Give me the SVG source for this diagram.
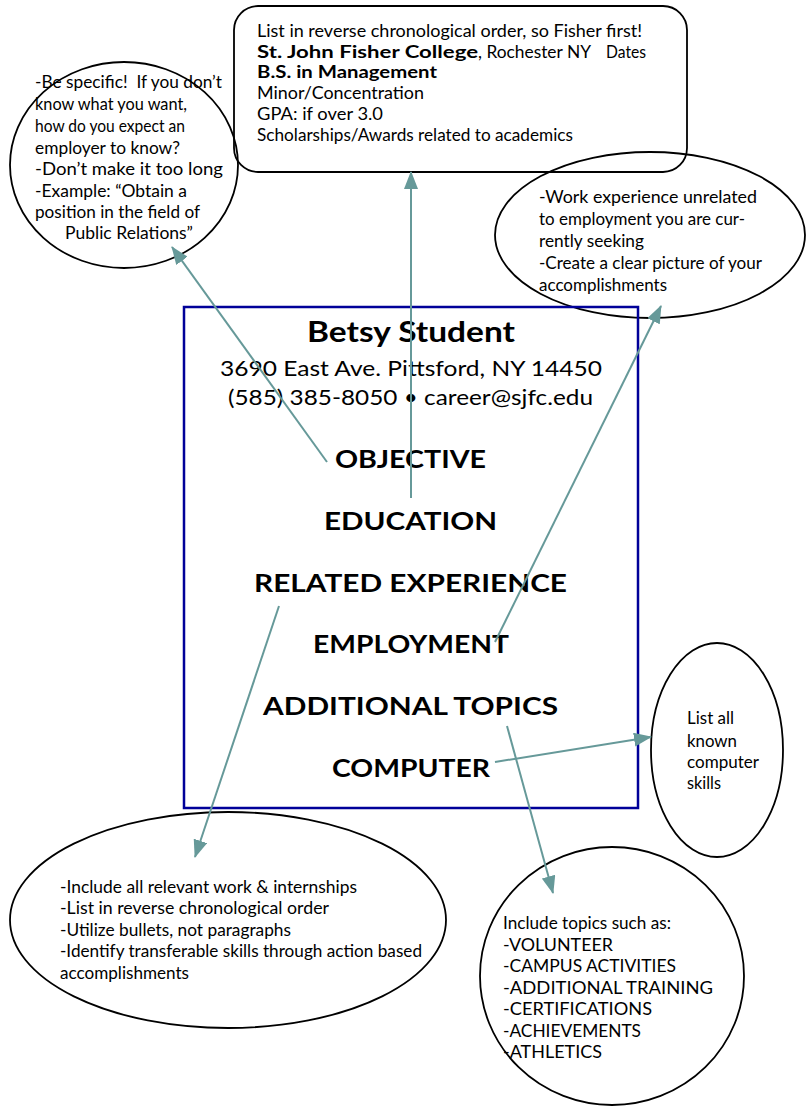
<svg xmlns="http://www.w3.org/2000/svg" width="806" height="1108" viewBox="0 0 806 1108">
<style>
  .t { font-family: Lato, "Open Sans", "Liberation Sans", sans-serif; font-size: 16.5px; fill: #000; }
  .b { font-weight: bold; }
  .h { font-family: Lato, "Open Sans", "Liberation Sans", sans-serif; font-size: 25px; font-weight: bold; fill: #000; }
  .n { font-family: Lato, "Open Sans", "Liberation Sans", sans-serif; fill: #000; }
  .shape { fill: none; stroke: #000; stroke-width: 1.8; }
  .box { fill: none; stroke: #000099; stroke-width: 2.5; }
  .conn { fill: none; stroke: #669999; stroke-width: 2; marker-end: url(#arr); }
</style>
<defs>
  <marker id="arr" viewBox="0 0 18 14" refX="17" refY="7" markerWidth="18" markerHeight="14" markerUnits="userSpaceOnUse" orient="auto">
    <path d="M0,0 L18,7 L0,14 Z" fill="#669999"/>
  </marker>
</defs>
<rect width="806" height="1108" fill="#fff"/>

<g id="objective-note">
  <ellipse class="shape" cx="124" cy="165" rx="114" ry="103"/>
  <text class="t" x="35" y="88" textLength="187" lengthAdjust="spacingAndGlyphs" xml:space="preserve">-Be specific!  If you don’t</text>
  <text class="t" x="35" y="110" textLength="152" lengthAdjust="spacingAndGlyphs">know what you want,</text>
  <text class="t" x="35" y="132" textLength="150" lengthAdjust="spacingAndGlyphs">how do you expect an</text>
  <text class="t" x="35" y="154" textLength="145" lengthAdjust="spacingAndGlyphs">employer to know?</text>
  <text class="t" x="35" y="175" textLength="188" lengthAdjust="spacingAndGlyphs">-Don’t make it too long</text>
  <text class="t" x="35" y="197" textLength="152" lengthAdjust="spacingAndGlyphs">-Example: “Obtain a</text>
  <text class="t" x="35" y="218" textLength="165" lengthAdjust="spacingAndGlyphs">position in the field of</text>
  <text class="t" x="65" y="239" textLength="128" lengthAdjust="spacingAndGlyphs">Public Relations”</text>
</g>

<g id="education-note">
  <rect class="shape" x="234" y="6" width="453" height="166" rx="24" ry="24"/>
  <text class="t" x="257" y="37" textLength="385" lengthAdjust="spacingAndGlyphs">List in reverse chronological order, so Fisher first!</text>
  <text class="t b" x="257" y="58" textLength="221" lengthAdjust="spacingAndGlyphs">St. John Fisher College</text>
  <text class="t" x="478" y="58" textLength="113" lengthAdjust="spacingAndGlyphs">, Rochester NY</text>
  <text class="t" x="606" y="58" textLength="40" lengthAdjust="spacingAndGlyphs">Dates</text>
  <text class="t b" x="257" y="78" textLength="180" lengthAdjust="spacingAndGlyphs">B.S. in Management</text>
  <text class="t" x="257" y="99" textLength="167" lengthAdjust="spacingAndGlyphs">Minor/Concentration</text>
  <text class="t" x="257" y="120" textLength="126" lengthAdjust="spacingAndGlyphs">GPA: if over 3.0</text>
  <text class="t" x="257" y="141" textLength="316" lengthAdjust="spacingAndGlyphs">Scholarships/Awards related to academics</text>
</g>

<g id="employment-note">
  <ellipse class="shape" cx="650" cy="235" rx="155" ry="83"/>
  <text class="t" x="539" y="203" textLength="218" lengthAdjust="spacingAndGlyphs">-Work experience unrelated</text>
  <text class="t" x="539" y="225" textLength="206" lengthAdjust="spacingAndGlyphs">to employment you are cur-</text>
  <text class="t" x="539" y="247" textLength="105" lengthAdjust="spacingAndGlyphs">rently seeking</text>
  <text class="t" x="539" y="269" textLength="223" lengthAdjust="spacingAndGlyphs">-Create a clear picture of your</text>
  <text class="t" x="539" y="291" textLength="128" lengthAdjust="spacingAndGlyphs">accomplishments</text>
</g>

<g id="resume">
  <rect class="box" x="184" y="307" width="454" height="501"/>
  <text class="n b" x="307" y="342" font-size="28" textLength="208" lengthAdjust="spacingAndGlyphs">Betsy Student</text>
  <text class="n" x="220" y="376" font-size="21" textLength="382" lengthAdjust="spacingAndGlyphs">3690 East Ave. Pittsford, NY 14450</text>
  <text class="n" x="228" y="405" font-size="21" textLength="365" lengthAdjust="spacingAndGlyphs">(585) 385-8050 • career@sjfc.edu</text>
  <text class="h" x="335" y="468" textLength="151" lengthAdjust="spacingAndGlyphs">OBJECTIVE</text>
  <text class="h" x="324" y="530" textLength="173" lengthAdjust="spacingAndGlyphs">EDUCATION</text>
  <text class="h" x="254" y="592" textLength="313" lengthAdjust="spacingAndGlyphs">RELATED EXPERIENCE</text>
  <text class="h" x="313" y="653" textLength="196" lengthAdjust="spacingAndGlyphs">EMPLOYMENT</text>
  <text class="h" x="263" y="715" textLength="295" lengthAdjust="spacingAndGlyphs">ADDITIONAL TOPICS</text>
  <text class="h" x="332" y="777" textLength="158" lengthAdjust="spacingAndGlyphs">COMPUTER</text>
</g>

<g id="computer-note">
  <ellipse class="shape" cx="717" cy="750" rx="66" ry="107"/>
  <text class="t" x="687" y="724" textLength="47" lengthAdjust="spacingAndGlyphs">List all</text>
  <text class="t" x="687" y="747" textLength="50" lengthAdjust="spacingAndGlyphs">known</text>
  <text class="t" x="687" y="768" textLength="72" lengthAdjust="spacingAndGlyphs">computer</text>
  <text class="t" x="687" y="789" textLength="34" lengthAdjust="spacingAndGlyphs">skills</text>
</g>

<g id="experience-note">
  <ellipse class="shape" cx="228" cy="920" rx="218" ry="108"/>
  <text class="t" x="60" y="893" textLength="297" lengthAdjust="spacingAndGlyphs">-Include all relevant work &amp; internships</text>
  <text class="t" x="60" y="914" textLength="269" lengthAdjust="spacingAndGlyphs">-List in reverse chronological order</text>
  <text class="t" x="60" y="936" textLength="231" lengthAdjust="spacingAndGlyphs">-Utilize bullets, not paragraphs</text>
  <text class="t" x="60" y="957" textLength="362" lengthAdjust="spacingAndGlyphs">-Identify transferable skills through action based</text>
  <text class="t" x="60" y="979" textLength="129" lengthAdjust="spacingAndGlyphs">accomplishments</text>
</g>

<g id="topics-note">
  <ellipse class="shape" cx="612" cy="976" rx="132" ry="129"/>
  <text class="t" x="503" y="929" textLength="168" lengthAdjust="spacingAndGlyphs">Include topics such as:</text>
  <text class="t" x="503" y="951" textLength="110" lengthAdjust="spacingAndGlyphs">-VOLUNTEER</text>
  <text class="t" x="503" y="972" textLength="173" lengthAdjust="spacingAndGlyphs">-CAMPUS ACTIVITIES</text>
  <text class="t" x="503" y="994" textLength="210" lengthAdjust="spacingAndGlyphs">-ADDITIONAL TRAINING</text>
  <text class="t" x="503" y="1015" textLength="149" lengthAdjust="spacingAndGlyphs">-CERTIFICATIONS</text>
  <text class="t" x="503" y="1037" textLength="138" lengthAdjust="spacingAndGlyphs">-ACHIEVEMENTS</text>
  <text class="t" x="503" y="1058" textLength="99" lengthAdjust="spacingAndGlyphs">-ATHLETICS</text>
</g>

<g id="connectors">
  <line class="conn" x1="327" y1="462" x2="172" y2="247"/>
  <line class="conn" x1="411" y1="498" x2="411" y2="172"/>
  <line class="conn" x1="495" y1="642" x2="661" y2="306"/>
  <line class="conn" x1="279" y1="606" x2="195" y2="857"/>
  <line class="conn" x1="507" y1="726" x2="553" y2="893"/>
  <line class="conn" x1="495" y1="762" x2="651" y2="737"/>
</g>
</svg>
